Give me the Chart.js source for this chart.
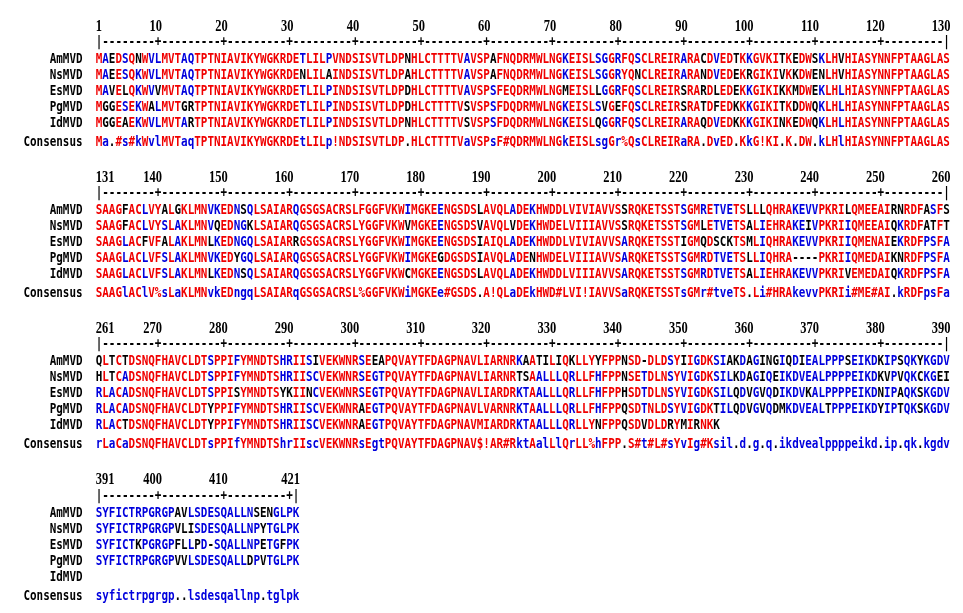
<!DOCTYPE html>
<html>
<head>
<meta charset="utf-8">
<script src="https://cdn.jsdelivr.net/npm/chart.js@4"></script>
<style>
html, body { margin: 0; padding: 0; background: #fff; }
</style>
</head>
<body>
<canvas id="aln" width="963" height="613"></canvas>
<script>
// sequences, one string per block of 130 columns
const seqNames = ['AmMVD', 'NsMVD', 'EsMVD', 'PgMVD', 'IdMVD'];

const AmMVD = [
    'MAEDSQNWVLMVTAQTPTNIAVIKYWGKRDETLILPVNDSISVTLDPNHLCTTTTVAVSPAFNQDRMWLNGKEISLSGGRFQSCLREIRARACDVEDTKKGVKITKEDWSKLHVHIASYNNFPTAAGLAS',
    'SAAGFACLVYALGKLMNVKEDNSQLSAIARQGSGSACRSLFGGFVKWIMGKEENGSDSLAVQLADEKHWDDLVIVIAVVSSRQKETSSTSGMRETVETSLLLQHRAKEVVPKRILQMEEAIRNRDFASFS',
    'QLTCTDSNQFHAVCLDTSPPIFYMNDTSHRIISIVEKWNRSEEAPQVAYTFDAGPNAVLIARNRKAATILIQKLLYYFPPNSD-DLDSYIIGDKSIAKDAGINGIQDIEALPPPSEIKDKIPSQKYKGDV',
    'SYFICTRPGRGPAVLSDESQALLNSENGLPK'
];
const NsMVD = [
    'MAEESQKWVLMVTAQTPTNIAVIKYWGKRDENLILAINDSISVTLDPAHLCTTTTVAVSPAFNQDRMWLNGKEISLSGGRYQNCLREIRARANDVEDEKRGIKIVKKDWENLHVHIASYNNFPTAAGLAS',
    'SAAGFACLVYSLAKLMNVQEDNGKLSAIARQGSGSACRSLYGGFVKWVMGKEENGSDSVAVQLVDEKHWDELVIIIAVVSSRQKETSSTSGMLETVETSALIEHRAKEIVPKRIIQMEEAIQKRDFATFT',
    'HLTCADSNQFHAVCLDTSPPIFYMNDTSHRIISCVEKWNRSEGTPQVAYTFDAGPNAVLIARNRTSAALLLQRLLFHFPPNSETDLNSYVIGDKSILKDAGIQEIKDVEALPPPPEIKDKVPVQKCKGEI',
    'SYFICTRPGRGPVLISDESQALLNPYTGLPK'
];
const EsMVD = [
    'MAVELQKWVVMVTAQTPTNIAVIKYWGKRDETLILPINDSISVTLDPDHLCTTTTVAVSPSFEQDRMWLNGMEISLLGGRFQSCLREIRSRARDLEDEKKGIKIKKMDWEKLHLHIASYNNFPTAAGLAS',
    'SAAGLACFVFALAKLMNLKEDNGQLSAIARRGSGSACRSLYGGFVKWIMGKEENGSDSIAIQLADEKHWDDLVIVIAVVSARQKETSSTIGMQDSCKTSMLIQHRAKEVVPKRIIQMENAIEKRDFPSFA',
    'RLACADSNQFHAVCLDTSPPISYMNDTSYKIINCVEKWNRSEGTPQVAYTFDAGPNAVLIARDRKTAALLLQRLLFHFPPHSDTDLNSYVIGDKSILQDVGVQDIKDVKALPPPPEIKDNIPAQKSKGDV',
    'SYFICTKPGRGPFLLPD-SQALLNPETGFPK'
];
const PgMVD = [
    'MGGESEKWALMVTGRTPTNIAVIKYWGKRDETLILPINDSISVTLDPDHLCTTTTVSVSPSFDQDRMWLNGKEISLSVGEFQSCLREIRSRATDFEDKKKGIKITKDDWQKLHLHIASYNNFPTAAGLAS',
    'SAAGLACLVFSLAKLMNVKEDYGQLSAIARQGSGSACRSLYGGFVKWIMGKEGDGSDSIAVQLADENHWDELVIIIAVVSARQKETSSTSGMRDTVETSLLIQHRA----PKRIIQMEDAIKNRDFPSFA',
    'RLACADSNQFHAVCLDTYPPIFYMNDTSHRIISCVEKWNRAEGTPQVAYTFDAGPNAVLVARNRKTAALLLQRLLFHFPPQSDTNLDSYVIGDKTILQDVGVQDMKDVEALTPPPEIKDYIPTQKSKGDV',
    'SYFICTRPGRGPVVLSDESQALLDPVTGLPK'
];
const IdMVD = [
    'MGGEAEKWVLMVTARTPTNIAVIKYWGKRDETLILPINDSISVTLDPNHLCTTTTVSVSPSFDQDRMWLNGKEISLQGGRFQSCLREIRARAQDVEDKKKGIKINKEDWQKLHLHIASYNNFPTAAGLAS',
    'SAAGLACLVFSLAKLMNLKEDNSQLSAIARQGSGSACRSLYGGFVKWCMGKEENGSDSLAVQLADEKHWDDLVIIIAVVSARQKETSSTSGMRDTVETSALIEHRAKEVVPKRIVEMEDAIQKRDFPSFA',
    'RLACTDSNQFHAVCLDTYPPIFYMNDTSHRIISCVEKWNRAEGTPQVAYTFDAGPNAVMIARDRKTAALLLQRLLYNFPPQSDVDLDRYMIRNKK',
    ''
];
const consensus = [
    'Ma.#s#kWvlMVTaqTPTNIAVIKYWGKRDEtLILp!NDSISVTLDP.HLCTTTTVaVSPsF#QDRMWLNGkEISLsgGr%QsCLREIRaRA.DvED.KkG!KI.K.DW.kLHlHIASYNNFPTAAGLAS',
    'SAAGlAClV%sLaKLMNvkEDngqLSAIARqGSGSACRSL%GGFVKWiMGKEe#GSDS.A!QLaDEkHWD#LVI!IAVVSaRQKETSSTsGMr#tveTS.Li#HRAkevvPKRIi#ME#AI.kRDFpsFa',
    'rLaCaDSNQFHAVCLDTsPPIfYMNDTShrIIscVEKWNRsEgtPQVAYTFDAGPNAV$!AR#RktAalLlQrLL%hFPP.S#t#L#sYvIg#Ksil.d.g.q.ikdvealppppeikd.ip.qk.kgdv',
    'syfictrpgrgp..lsdesqallnp.tglpk'
];

const blockStarts = [1, 131, 261, 391];
const blockEnds = [130, 260, 390, 421];
const tickLabels = [
    [1, 10, 20, 30, 40, 50, 60, 70, 80, 90, 100, 110, 120, 130],
    [131, 140, 150, 160, 170, 180, 190, 200, 210, 220, 230, 240, 250, 260],
    [261, 270, 280, 290, 300, 310, 320, 330, 340, 350, 360, 370, 380, 390],
    [391, 400, 410, 421]
];

const sequences = [AmMVD, NsMVD, EsMVD, PgMVD, IdMVD];

// layout
const PITCH = 6.57;
const FIRST_COL_X = 99.0;
const X_MIN = 1 - FIRST_COL_X / PITCH;
const X_MAX = 1 + (963 - FIRST_COL_X) / PITCH;
const BLOCK_TOP = 58;
const BLOCK_STEP = 151.2;

const RED = '#f00000';
const BLUE = '#0000dd';
const BLACK = '#000000';

// multalin symbols
const symbolClass = { '!': 'IV', '$': 'LM', '%': 'FY', '#': 'NDQEBZ' };

function rowY(b, row) {
    // row: 'num', 'ruler', 0..4 sequences, 'cons'
    const base = BLOCK_TOP + BLOCK_STEP * b;
    if (row === 'num') return base - 33;
    if (row === 'ruler') return base - 17;
    if (row === 'cons') return base + 83;
    return base + 16 * row;
}

function levelColor(b, i) {
    const c = consensus[b][i];
    if (c === '.') return BLACK;
    if (symbolClass[c]) {
        const all = sequences.every(s => s[b][i] && symbolClass[c].includes(s[b][i]));
        return all ? RED : BLUE;
    }
    return c === c.toUpperCase() ? RED : BLUE;
}

function matchesConsensus(c, r) {
    if (!r || r === '-' || c === '.') return false;
    if (symbolClass[c]) return symbolClass[c].includes(r);
    return c.toUpperCase() === r;
}

const datasets = [];

// sequence rows
sequences.forEach((seq, r) => {
    const data = [];
    seq.forEach((blockStr, b) => {
        for (let i = 0; i < blockStr.length; i++) {
            const ch = blockStr[i];
            const color = matchesConsensus(consensus[b][i], ch) ? levelColor(b, i) : BLACK;
            data.push({ x: i + 1, y: rowY(b, r), ch: ch, color: color });
        }
    });
    datasets.push({ label: seqNames[r], kind: 'seq', data: data });
});

// consensus row
const consData = [];
consensus.forEach((blockStr, b) => {
    for (let i = 0; i < blockStr.length; i++) {
        consData.push({ x: i + 1, y: rowY(b, 'cons'), ch: blockStr[i], color: levelColor(b, i) });
    }
});
datasets.push({ label: 'Consensus', kind: 'seq', data: consData });

// names on the left
const nameData = [];
blockStarts.forEach((s, b) => {
    seqNames.forEach((n, r) => nameData.push({ x: -1.5, y: rowY(b, r), ch: n, color: BLACK }));
    nameData.push({ x: -1.5, y: rowY(b, 'cons'), ch: 'Consensus', color: BLACK });
});
datasets.push({ label: 'names', kind: 'name', data: nameData });

// ruler |---------+---------+ ... |
const rulerData = [];
blockStarts.forEach((s, b) => {
    for (let n = s; n <= blockEnds[b]; n++) {
        let ch = '-';
        if (n === s || n === blockEnds[b]) ch = '|';
        else if (n % 10 === 0) ch = '+';
        rulerData.push({ x: n - s + 1, y: rowY(b, 'ruler'), ch: ch, color: BLACK });
    }
});
datasets.push({ label: 'ruler', kind: 'seq', data: rulerData });

// position numbers
const numData = [];
tickLabels.forEach((ticks, b) => {
    ticks.forEach(t => {
        const col = t - blockStarts[b] + 1;
        if (t === blockStarts[b]) {
            numData.push({ x: col - 0.5, y: rowY(b, 'num'), ch: String(t), align: 'left' });
        } else {
            numData.push({ x: col + 0.6, y: rowY(b, 'num'), ch: String(t), align: 'right' });
        }
    });
});
datasets.push({ label: 'numbers', kind: 'num', data: numData });

// draws the characters at the point positions given by the scales
const letterPlugin = {
    id: 'letters',
    afterDatasetsDraw(chart) {
        const ctx = chart.ctx;
        chart.data.datasets.forEach((ds, di) => {
            const meta = chart.getDatasetMeta(di);
            ds.data.forEach((d, k) => {
                const p = meta.data[k];
                ctx.save();
                ctx.translate(p.x, p.y);
                if (ds.kind === 'num') {
                    ctx.font = 'bold 16px "Liberation Serif"';
                    ctx.scale(0.78, 1);
                    ctx.textAlign = d.align;
                    ctx.textBaseline = 'alphabetic';
                    ctx.fillStyle = BLACK;
                    ctx.fillText(d.ch, 0, 5.5);
                } else {
                    ctx.font = 'bold 14px "DejaVu Sans Mono"';
                    ctx.scale(0.78, 1);
                    ctx.textAlign = ds.kind === 'name' ? 'right' : 'center';
                    ctx.textBaseline = 'alphabetic';
                    ctx.fillStyle = d.color;
                    ctx.fillText(d.ch, 0, 5);
                }
                ctx.restore();
            });
        });
    }
};

const chartEl = document.getElementById('aln').getContext('2d');
const alnChart = new Chart(chartEl, {
    type: 'scatter',
    data: { datasets: datasets },
    options: {
        responsive: false,
        animation: false,
        layout: { padding: 0 },
        events: [],
        elements: { point: { radius: 0, hoverRadius: 0 } },
        plugins: {
            legend: { display: false },
            tooltip: { enabled: false }
        },
        scales: {
            x: { type: 'linear', min: X_MIN, max: X_MAX, display: false },
            y: { type: 'linear', min: 0, max: 613, reverse: true, display: false }
        }
    },
    plugins: [letterPlugin]
});
</script>
</body>
</html>
